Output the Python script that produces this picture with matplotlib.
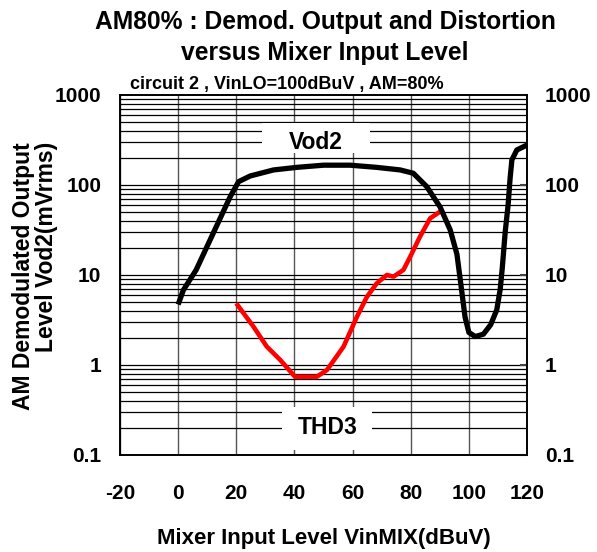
import numpy as np
import matplotlib
matplotlib.use('Agg')
import matplotlib.pyplot as plt
from matplotlib.patches import Rectangle
from matplotlib.ticker import FixedLocator, NullFormatter

plt.rcParams['font.family'] = ['Liberation Sans', 'DejaVu Sans']
plt.rcParams['font.weight'] = 'bold'

""" Vod2 curve (black) """
vod2_x = [0, 1.8, 6.2, 17.9, 20.8, 24.8, 32.8, 40.8, 50, 59.2, 68.3, 76.4, 80.9, 85.5,
          90.1, 93.6, 95.9, 97.2, 98.7, 100, 102.2, 105, 107.5, 109.6, 110.8, 111.5,
          112.5, 113.5, 114.2, 114.8, 116.5, 120]
vod2_y = [4.7, 6.8, 11.4, 74, 109, 126, 147, 157, 166, 166, 157, 147, 135, 96,
          57, 31.6, 17, 8.1, 3.4, 2.3, 2.07, 2.2, 2.8, 4.1, 7, 12,
          30, 60, 120, 190, 245, 278]

""" THD3 curve (red) """
thd3_x = [20, 25.9, 30.5, 35.1, 40.2, 47.7, 51.2, 56.9, 61.5, 64.9, 68.3, 71.8,
          74.1, 77.5, 79.8, 83.2, 86.7, 90.1]
thd3_y = [4.84, 2.67, 1.6, 1.14, 0.74, 0.74, 0.88, 1.6, 3.44, 5.7, 8.07, 10,
          9.6, 11.4, 15.9, 26.7, 42.7, 50.6]

xticks = [-20, 0, 20, 40, 60, 80, 100, 120]
yticks = [0.1, 1, 10, 100, 1000]
ytick_labels = ['0.1', '1', '10', '100', '1000']

fig = plt.figure(figsize=(5.97, 5.52), dpi=100)
ax = fig.add_axes([120/597, 1-455/552, 407/597, 360/552])

ax.set_yscale('log')
ax.set_xlim(-20, 120)
ax.set_ylim(0.1, 1000)

# grid: vertical grey every 20, horizontal black at log minors
for xv in xticks:
    ax.axvline(xv, color='#555555', lw=1.0, zorder=1)
minor = [m * 10.0**e for e in range(-1, 3) for m in range(1, 10)]
for yv in minor:
    ax.axhline(yv, color='black', lw=0.9, zorder=1)

ax.plot(thd3_x, thd3_y, color='#ff0000', lw=3.3, zorder=3, solid_capstyle='butt')
ax.plot(vod2_x, vod2_y, color='black', lw=3.8, zorder=4, solid_capstyle='butt')

# white label boxes that blank the grid
ax.add_patch(Rectangle((28.9, 227), 66 - 28.9, 489 - 227, fc='white', ec='none', zorder=2))
ax.add_patch(Rectangle((35.8, 0.1137), 66.7 - 35.8, 0.341 - 0.1137, fc='white', ec='none', zorder=2))
ax.text(47.4, 300, 'Vod2', ha='center', va='center', fontsize=16.5, fontweight='bold', zorder=5)
ax.text(51.4, 0.2, 'THD3', ha='center', va='center', fontsize=16.5, fontweight='bold', zorder=5)

ax.set_xticks(xticks)
ax.set_xticklabels([str(v) for v in xticks], fontsize=15, fontweight='bold')
ax.yaxis.set_major_locator(FixedLocator(yticks))
ax.yaxis.set_minor_locator(FixedLocator([]))
ax.yaxis.set_minor_formatter(NullFormatter())
ax.set_yticklabels(ytick_labels, fontsize=15, fontweight='bold')
ax.tick_params(axis='x', length=0, pad=21)
ax.tick_params(axis='y', length=0, pad=13.5)

ax2 = ax.twinx()
ax2.set_yscale('log')
ax2.set_ylim(0.1, 1000)
ax2.yaxis.set_major_locator(FixedLocator(yticks))
ax2.yaxis.set_minor_locator(FixedLocator([]))
ax2.set_yticklabels(ytick_labels, fontsize=15, fontweight='bold')
ax2.tick_params(axis='y', direction='in', length=5, width=1.5, color='#444444', pad=13)

for a in (ax, ax2):
    for s in a.spines.values():
        s.set_linewidth(1.2)
        s.set_color('black')

ax.set_xlabel('Mixer Input Level VinMIX(dBuV)', fontsize=16, fontweight='bold', labelpad=18)

fig.text(35/597, (552-276)/552, 'AM Demodulated Output\nLevel Vod2(mVrms)', rotation=90,
         ha='center', va='center', multialignment='right', fontsize=16.5, fontweight='bold',
         linespacing=1.05)

fig.text(325/597, 1-22/552, 'AM80% : Demod. Output and Distortion', ha='center', va='center',
         fontsize=17.7, fontweight='bold')
fig.text(325/597, 1-53/552, 'versus Mixer Input Level', ha='center', va='center',
         fontsize=17.7, fontweight='bold')
fig.text(130/597, 1-85/552, 'circuit 2 , VinLO=100dBuV , AM=80%', ha='left', va='center',
         fontsize=13, fontweight='bold')

fig.savefig('out.png', dpi=100)
